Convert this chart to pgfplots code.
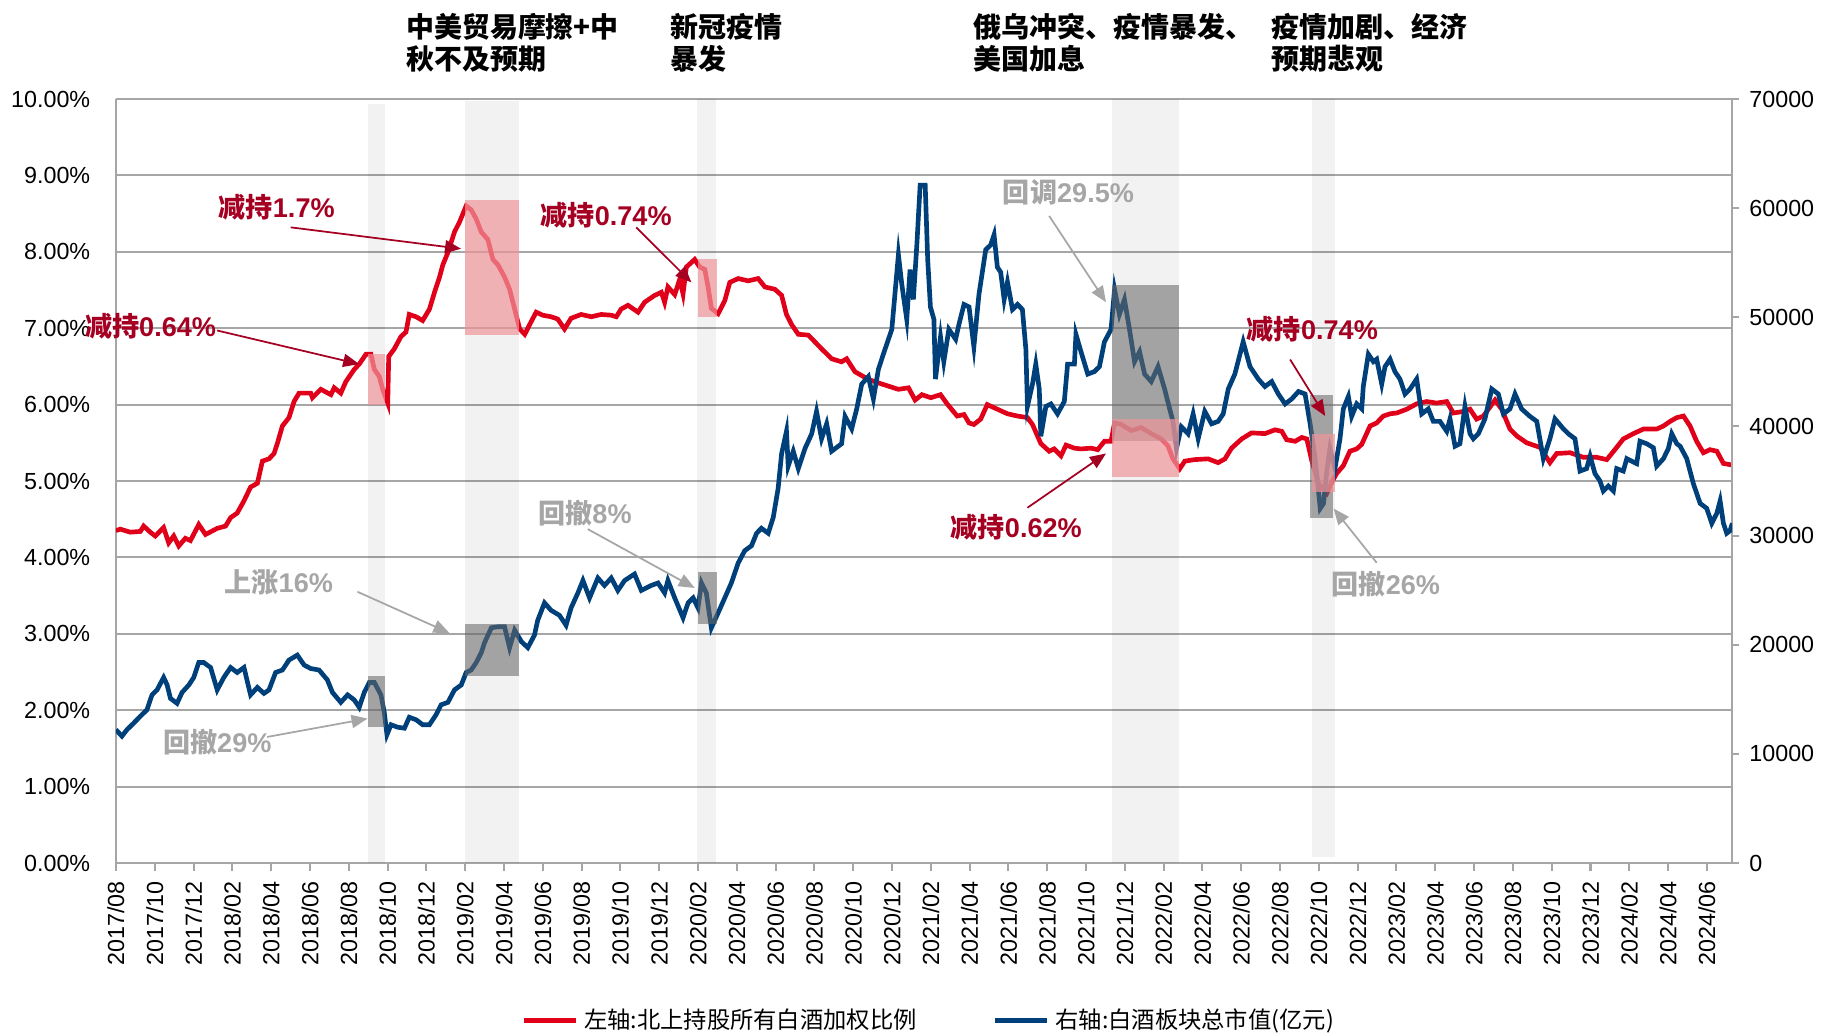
\documentclass[border=0pt]{standalone}
\usepackage{pgfplots}
\pgfplotsset{compat=1.18}
\usepackage{fontspec}
\setmainfont{Liberation Sans}
\newfontfamily\cjk{Noto Sans CJK SC}
\usetikzlibrary{arrows.meta}
\definecolor{lred}{RGB}{224,0,26}
\definecolor{lblue}{RGB}{0,64,122}
\definecolor{dred}{RGB}{165,0,33}
\definecolor{agray}{RGB}{166,166,166}
\definecolor{gridc}{RGB}{166,166,166}
\definecolor{pinkc}{RGB}{240,150,155}
\definecolor{boxg}{RGB}{105,105,105}

\pgfplotstableread{
m v
0 4.35
0.22 4.37
0.74 4.33
1.26 4.34
1.43 4.41
1.77 4.33
2.03 4.28
2.46 4.39
2.72 4.19
2.98 4.28
3.24 4.15
3.58 4.25
3.84 4.22
4.27 4.43
4.62 4.30
5.22 4.38
5.65 4.41
5.91 4.52
6.25 4.58
6.60 4.74
6.94 4.92
7.29 4.97
7.55 5.26
7.89 5.29
8.15 5.36
8.32 5.49
8.58 5.72
8.92 5.83
9.18 6.04
9.44 6.15
10.04 6.15
10.13 6.09
10.56 6.20
11.08 6.13
11.25 6.22
11.59 6.15
11.85 6.30
12.28 6.46
12.54 6.53
12.89 6.66
13.14 6.66
13.32 6.46
13.57 6.37
13.75 6.20
14.01 6.02
14.06 6.63
14.35 6.73
14.69 6.89
14.95 6.95
15.12 7.18
15.47 7.15
15.81 7.10
16.16 7.25
16.42 7.47
16.68 7.67
16.85 7.83
17.11 7.99
17.45 8.26
17.71 8.39
18.05 8.60
18.31 8.55
18.57 8.43
18.83 8.26
19.17 8.16
19.43 7.90
19.69 7.83
20.03 7.67
20.29 7.51
20.55 7.25
20.81 6.99
21.07 6.92
21.33 7.05
21.66 7.21
22.00 7.17
22.43 7.15
22.77 7.12
23.12 6.99
23.46 7.13
23.98 7.18
24.50 7.15
25.01 7.18
25.53 7.17
25.79 7.15
26.04 7.25
26.39 7.30
26.91 7.21
27.25 7.34
27.77 7.43
28.11 7.47
28.28 7.34
28.45 7.54
28.80 7.44
29.06 7.64
29.23 7.45
29.40 7.80
29.83 7.90
30.09 7.80
30.35 7.77
30.52 7.54
30.69 7.26
31.04 7.19
31.38 7.36
31.64 7.60
32.07 7.65
32.59 7.62
33.10 7.65
33.45 7.54
33.96 7.51
34.31 7.43
34.56 7.18
34.82 7.05
35.17 6.92
35.68 6.91
36.03 6.82
36.37 6.73
36.89 6.60
37.40 6.56
37.66 6.60
38.09 6.43
38.78 6.33
39.47 6.27
40.33 6.20
40.85 6.22
41.19 6.06
41.54 6.13
42.00 6.09
42.50 6.13
42.84 6.01
43.36 5.85
43.71 5.87
43.97 5.76
44.22 5.74
44.57 5.81
44.91 6.00
45.43 5.94
45.95 5.88
46.47 5.85
46.98 5.83
47.24 5.74
47.67 5.49
48.10 5.39
48.36 5.42
48.71 5.33
48.97 5.47
49.40 5.43
49.74 5.42
50.26 5.43
50.60 5.41
50.95 5.52
51.29 5.52
51.47 5.76
51.81 5.74
52.33 5.66
52.84 5.70
53.36 5.62
53.88 5.55
54.22 5.46
54.48 5.29
54.83 5.16
55.09 5.26
55.60 5.28
56.29 5.29
56.81 5.24
57.16 5.29
57.50 5.43
58.02 5.55
58.53 5.63
59.22 5.62
59.74 5.67
60.09 5.65
60.34 5.54
60.78 5.52
61.12 5.57
61.38 5.55
61.64 5.26
61.98 4.97
62.41 4.84
62.70 5.00
62.92 5.10
63.26 5.20
63.60 5.39
63.95 5.42
64.21 5.48
64.46 5.62
64.64 5.72
64.98 5.76
65.32 5.85
65.67 5.88
66.01 5.89
66.53 5.94
67.04 6.01
67.56 6.04
68.07 6.02
68.59 6.04
68.93 5.89
69.45 5.91
69.79 5.94
70.13 5.81
70.48 5.85
70.74 5.94
71.08 6.06
71.42 5.94
71.85 5.68
72.20 5.59
72.71 5.50
73.40 5.44
73.91 5.24
74.26 5.36
74.95 5.37
75.63 5.31
76.32 5.31
76.84 5.28
77.35 5.44
77.69 5.55
78.21 5.62
78.73 5.68
79.41 5.68
79.76 5.72
80.10 5.78
80.45 5.83
80.79 5.85
81.13 5.72
81.47 5.52
81.82 5.37
82.16 5.41
82.51 5.39
82.85 5.23
83.28 5.21
}\redtab

\pgfplotstableread{
m v
0 12213
0.31 11620
0.57 12213
0.91 12805
1.26 13443
1.60 14036
1.86 15403
2.12 15859
2.46 16997
2.64 16314
2.81 15084
3.15 14628
3.41 15630
3.76 16314
4.01 16997
4.27 18364
4.53 18364
4.88 17909
5.22 15859
5.56 16997
5.91 17909
6.25 17453
6.60 17909
6.94 15403
7.29 16086
7.63 15540
7.89 15859
8.23 17453
8.58 17681
8.92 18592
9.35 19048
9.70 18136
10.04 17818
10.47 17681
10.90 16769
11.16 15630
11.59 14719
11.94 15403
12.28 14947
12.54 14263
12.80 15630
13.06 16542
13.32 16542
13.66 15403
13.83 13808
13.97 11757
14.18 12668
14.52 12440
14.87 12349
15.12 13352
15.47 13124
15.81 12668
16.16 12668
16.50 13580
16.76 14491
17.11 14719
17.45 15859
17.80 16314
18.05 17453
18.31 17681
18.57 18364
18.83 19276
19.00 20187
19.35 21554
19.69 21645
20.03 21645
20.29 19731
20.55 21326
20.90 20279
21.23 19731
21.57 20871
21.74 22238
22.09 23833
22.43 23149
22.86 22694
23.20 21782
23.46 23377
23.81 24744
24.07 25884
24.41 24289
24.84 26112
25.18 25428
25.53 26112
25.87 24972
26.22 25884
26.73 26476
27.08 24972
27.59 25428
27.94 25656
28.28 24744
28.45 25884
28.80 24289
29.23 22466
29.49 23833
29.75 24289
30.00 23377
30.18 25656
30.43 24744
30.69 21554
31.04 22922
31.38 24289
31.72 25656
32.07 27479
32.41 28618
32.76 29074
33.02 30213
33.27 30669
33.62 30213
33.88 31671
34.13 34314
34.31 37504
34.56 39555
34.65 36365
34.91 37732
35.17 36137
35.51 37960
35.86 39327
36.11 41378
36.37 38871
36.63 40238
36.89 37732
37.40 38415
37.58 40921
37.92 39783
38.18 41606
38.44 43884
38.78 44568
39.04 42517
39.30 45251
39.64 47074
39.99 48897
40.33 55732
40.50 53078
40.76 49809
40.93 54366
41.10 51629
41.28 56643
41.45 62110
41.71 62110
41.84 55277
41.98 50946
42.16 49809
42.24 44340
42.50 48213
42.67 45935
42.93 48897
43.28 47985
43.45 49353
43.71 51175
43.97 50946
44.22 47302
44.48 52086
44.83 56187
45.09 56643
45.26 57554
45.43 54594
45.60 54138
45.78 51629
45.95 53225
46.21 50718
46.47 51175
46.72 50718
46.90 47074
46.98 41834
47.24 43884
47.41 45707
47.59 43428
47.67 39099
47.93 41834
48.19 42061
48.53 41150
48.88 42289
49.05 45707
49.40 45707
49.48 48441
49.74 46846
50.09 44795
50.43 45023
50.69 45479
50.95 47758
51.29 48897
51.47 52542
51.72 50263
51.98 51629
52.24 48897
52.50 45935
52.76 46846
53.02 44795
53.36 44112
53.71 45479
54.05 43428
54.31 41606
54.48 40466
54.66 37960
54.91 39971
55.26 39327
55.52 41150
55.78 38871
56.12 41378
56.47 40238
56.81 40466
57.07 41150
57.33 43428
57.67 44795
58.10 47758
58.45 45479
58.88 44340
59.22 43656
59.57 44112
59.91 42973
60.26 42061
60.60 42517
60.95 43200
61.29 42973
61.55 40238
61.81 37049
62.07 32492
62.24 32948
62.41 35910
62.57 37960
62.83 36137
63.09 38871
63.26 41606
63.52 42745
63.69 40921
63.95 42061
64.21 41606
64.29 43656
64.55 46618
64.81 45935
64.98 46162
65.24 43884
65.41 45479
65.67 46162
65.92 45023
66.18 44340
66.44 42973
66.70 43428
67.04 44340
67.30 41150
67.64 41606
67.90 40466
68.24 40466
68.59 39555
68.76 40694
69.02 38187
69.27 38415
69.53 41834
69.79 39327
69.96 38871
70.22 39327
70.56 40694
70.91 43428
71.25 42973
71.51 41150
71.85 41606
72.11 42973
72.45 41606
72.88 40921
73.23 40466
73.57 37049
73.91 38871
74.17 40694
74.60 39783
74.86 39327
75.20 38871
75.46 35910
75.80 36137
75.98 37276
76.23 35682
76.49 34998
76.66 34086
76.92 34542
77.18 34086
77.35 36137
77.69 35910
77.87 37049
78.12 36821
78.38 36593
78.55 38643
78.90 38415
79.24 38051
79.41 36365
79.76 37049
80.01 37960
80.19 39327
80.45 38415
80.62 38187
80.96 37049
81.30 34770
81.65 32948
81.99 32492
82.25 31125
82.51 32036
82.68 33176
82.85 31125
83.02 30213
83.19 30441
83.31 31125
}\bluetab

\begin{document}
\begin{tikzpicture}[font=\fontsize{8}{9.6}\selectfont]
\pgfplotsset{base/.style={width=554.9pt,height=262.3pt,scale only axis,xmin=0,xmax=83.3}}
% ---------------- left axis: red series ----------------
\begin{axis}[base,
  ymin=0,ymax=10,
  axis x line*=bottom, axis y line*=left,
  axis line style={gridc,line width=0.7pt},
  ytick={0,1,...,10},
  yticklabels={0.00\%,1.00\%,2.00\%,3.00\%,4.00\%,5.00\%,6.00\%,7.00\%,8.00\%,9.00\%,10.00\%},
  ytick style={draw=none},
  yticklabel style={xshift=-2.6pt},
  ymajorgrids, grid style={gridc,line width=0.7pt},
  xtick={0,2,...,82},
  xticklabels={2017/08,2017/10,2017/12,2018/02,2018/04,2018/06,2018/08,2018/10,2018/12,2019/02,2019/04,2019/06,2019/08,2019/10,2019/12,2020/02,2020/04,2020/06,2020/08,2020/10,2020/12,2021/02,2021/04,2021/06,2021/08,2021/10,2021/12,2022/02,2022/04,2022/06,2022/08,2022/10,2022/12,2023/02,2023/04,2023/06,2023/08,2023/10,2023/12,2024/02,2024/04,2024/06},
  x tick label style={rotate=90,anchor=east},
  xtick style={gridc,line width=0.7pt},
  tick align=outside, major tick length=2.7pt,
  legend style={at={(0.504,-0.206)},anchor=center,legend columns=2,draw=none,fill=none,
    font=\cjk\fontsize{8}{9.6}\selectfont,
    /tikz/every even column/.append style={column sep=24pt}},
  legend image code/.code={\draw[#1] (0pt,0pt) -- (18pt,0pt);},
]
\fill[black,opacity=0.05] (axis cs:12.99,0) rectangle (axis cs:13.87,9.93);
\fill[black,opacity=0.05] (axis cs:17.97,0) rectangle (axis cs:20.76,9.97);
\fill[black,opacity=0.05] (axis cs:29.97,0) rectangle (axis cs:30.95,10);
\fill[black,opacity=0.05] (axis cs:51.34,0) rectangle (axis cs:54.79,10);
\fill[black,opacity=0.05] (axis cs:61.64,0.08) rectangle (axis cs:62.81,10.08);
\addplot[lred,line width=1.6pt] table[x=m,y=v] {\redtab};
\addlegendentry{左轴:北上持股所有白酒加权比例}
\addlegendimage{lblue,line width=1.6pt}
\addlegendentry{右轴:白酒板块总市值(亿元)}
\end{axis}
% ---------------- right axis: blue series ----------------
\begin{axis}[base,
  ymin=0,ymax=70000,
  axis y line*=right, axis x line=none,
  axis line style={gridc,line width=0.7pt},
  ytick={0,10000,...,70000},
  yticklabels={0,10000,20000,30000,40000,50000,60000,70000},
  scaled y ticks=false,
  ytick style={gridc,line width=0.7pt},
  tick align=outside, major tick length=2.4pt,
]
\addplot[lblue,line width=1.6pt] table[x=m,y=v] {\bluetab};
\end{axis}
% ---------------- overlay: boxes, arrows, notes ----------------
\begin{axis}[base,ymin=0,ymax=10,hide axis,clip=false]
\coordinate (bl) at (rel axis cs:0,0);
\coordinate (tr) at (rel axis cs:1,1);
% gray boxes
\fill[boxg,opacity=0.57] (axis cs:12.99,1.78) rectangle (axis cs:13.87,2.45);
\fill[boxg,opacity=0.57] (axis cs:17.97,2.45) rectangle (axis cs:20.76,3.125);
\fill[boxg,opacity=0.57] (axis cs:30.02,3.13) rectangle (axis cs:31.0,3.81);
\fill[boxg,opacity=0.57] (axis cs:51.34,5.53) rectangle (axis cs:54.79,7.56);
\fill[boxg,opacity=0.57] (axis cs:61.52,4.52) rectangle (axis cs:62.72,6.13);
% pink boxes
\fill[pinkc,opacity=0.7] (axis cs:12.99,6.00) rectangle (axis cs:13.87,6.66);
\fill[pinkc,opacity=0.7] (axis cs:17.97,6.91) rectangle (axis cs:20.76,8.68);
\fill[pinkc,opacity=0.7] (axis cs:30.02,7.15) rectangle (axis cs:31.0,7.91);
\fill[pinkc,opacity=0.7] (axis cs:51.34,5.05) rectangle (axis cs:54.79,5.81);
\fill[pinkc,opacity=0.7] (axis cs:61.64,4.85) rectangle (axis cs:62.81,5.62);
% arrows
\draw[dred,line width=0.6pt,-{Triangle[length=5.5pt,width=4.5pt]}] (axis cs:5.22,6.97) -- (axis cs:12.54,6.53);
\draw[dred,line width=0.6pt,-{Triangle[length=5.5pt,width=4.5pt]}] (axis cs:9.01,8.32) -- (axis cs:17.79,8.04);
\draw[dred,line width=0.6pt,-{Triangle[length=5.5pt,width=4.5pt]}] (axis cs:26.82,8.32) -- (axis cs:29.66,7.60);
\draw[dred,line width=0.6pt,-{Triangle[length=5.5pt,width=4.5pt]}] (axis cs:46.98,4.65) -- (axis cs:51.03,5.36);
\draw[dred,line width=0.6pt,-{Triangle[length=5.5pt,width=4.5pt]}] (axis cs:60.52,6.59) -- (axis cs:62.33,5.85);
\draw[agray,line width=0.6pt,-{Triangle[length=5.5pt,width=4.5pt]}] (axis cs:48.10,8.47) -- (axis cs:51.03,7.34);
\draw[agray,line width=0.6pt,-{Triangle[length=5.5pt,width=4.5pt]}] (axis cs:24.32,4.37) -- (axis cs:29.83,3.60);
\draw[agray,line width=0.6pt,-{Triangle[length=5.5pt,width=4.5pt]}] (axis cs:12.45,3.55) -- (axis cs:17.19,3.01);
\draw[agray,line width=0.6pt,-{Triangle[length=5.5pt,width=4.5pt]}] (axis cs:7.80,1.65) -- (axis cs:12.97,1.89);
\draw[agray,line width=0.6pt,-{Triangle[length=5.5pt,width=4.5pt]}] (axis cs:64.98,3.93) -- (axis cs:62.76,4.64);
% red and gray notes
\begin{scope}[every node/.style={anchor=west,inner sep=0pt,font=\fontsize{9.3}{11}\selectfont\bfseries}]
\node[text=dred] at (axis cs:-1.62,7.02) {{\cjk\bfseries 减持}0.64\%};
\node[text=dred] at (axis cs:5.27,8.58) {{\cjk\bfseries 减持}1.7\%};
\node[text=dred] at (axis cs:21.86,8.48) {{\cjk\bfseries 减持}0.74\%};
\node[text=dred] at (axis cs:43.0,4.40) {{\cjk\bfseries 减持}0.62\%};
\node[text=dred] at (axis cs:58.26,6.99) {{\cjk\bfseries 减持}0.74\%};
\node[text=agray] at (axis cs:45.69,8.78) {{\cjk\bfseries 回调}29.5\%};
\node[text=agray] at (axis cs:21.74,4.58) {{\cjk\bfseries 回撤}8\%};
\node[text=agray] at (axis cs:5.57,3.67) {{\cjk\bfseries 上涨}16\%};
\node[text=agray] at (axis cs:2.40,1.58) {{\cjk\bfseries 回撤}29\%};
\node[text=agray] at (axis cs:62.63,3.65) {{\cjk\bfseries 回撤}26\%};
\end{scope}
% top notes
\begin{scope}[every node/.style={anchor=west,inner sep=0pt,align=left,font=\cjk\bfseries\fontsize{9.6}{11}\selectfont}]
\node at (axis cs:14.93,10.73) {中美贸易摩擦+中\\秋不及预期};
\node at (axis cs:28.56,10.73) {新冠疫情\\暴发};
\node at (axis cs:44.19,10.73) {俄乌冲突、疫情暴发、\\美国加息};
\node at (axis cs:59.52,10.73) {疫情加剧、经济\\预期悲观};
\end{scope}
\end{axis}
\pgfresetboundingbox
\path ([shift={(-39.8pt,-59pt)}]bl) rectangle ([shift={(31.2pt,34pt)}]tr);
\end{tikzpicture}
\end{document}
